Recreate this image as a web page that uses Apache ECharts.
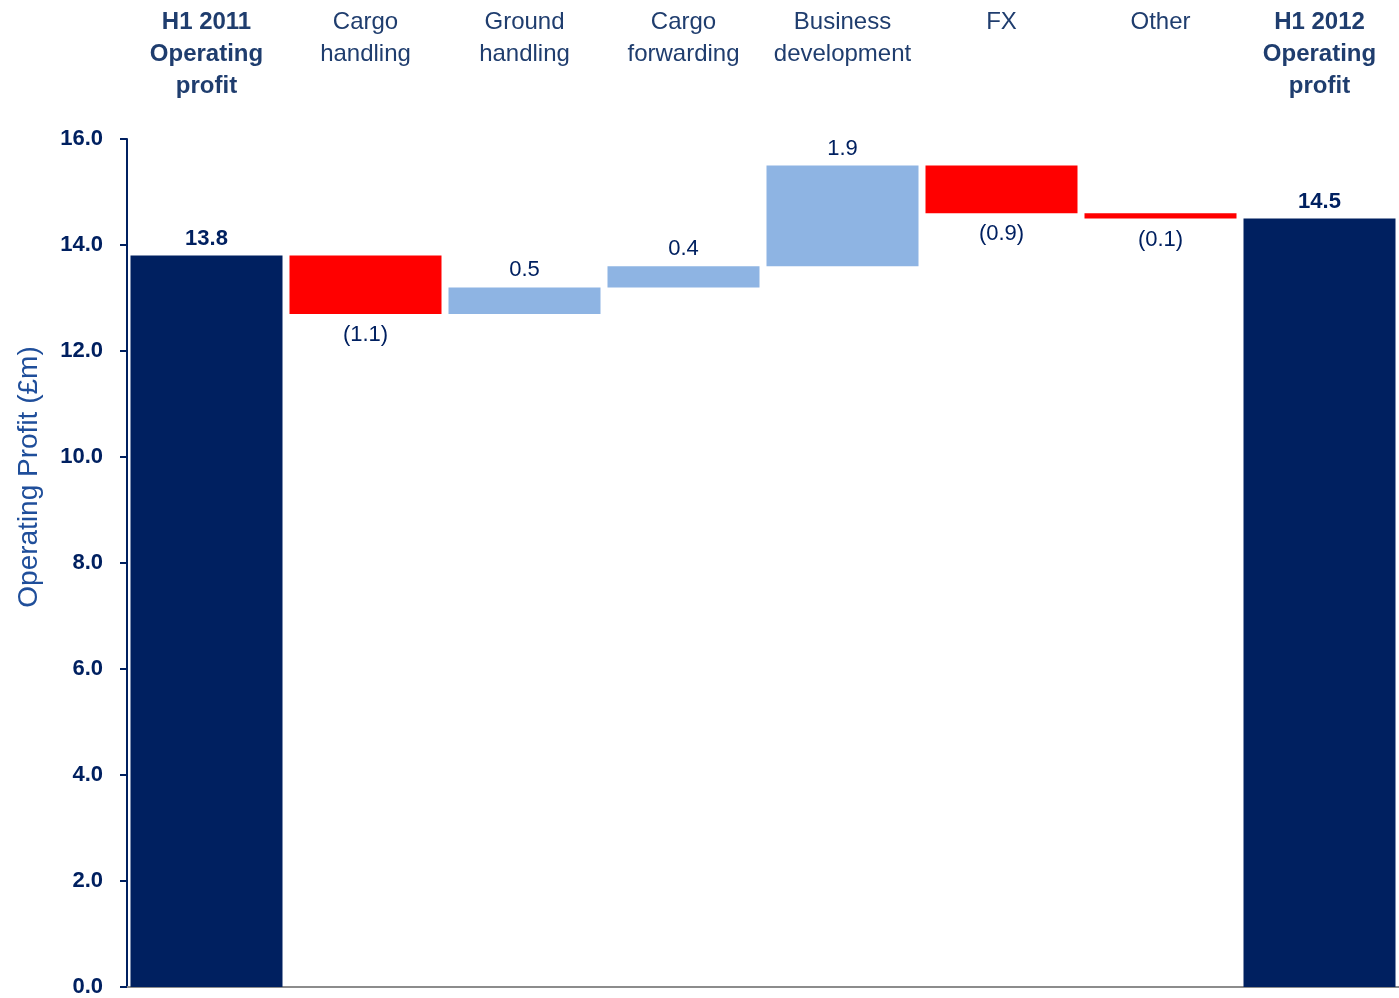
<!DOCTYPE html>
<html>
<head>
<meta charset="utf-8">
<title>Operating profit bridge H1 2011 to H1 2012</title>
<script src="https://cdn.jsdelivr.net/npm/echarts@6/dist/echarts.min.js"></script>
<style>
  html, body { margin: 0; padding: 0; background: #ffffff; }
  #chart { width: 1399px; height: 998px; }
</style>
</head>
<body>
<div id="chart"></div>
<script>
// Bridge steps, in £m
const categories = [
  'H1 2011\nOperating\nprofit',
  'Cargo\nhandling',
  'Ground\nhandling',
  'Cargo\nforwarding',
  'Business\ndevelopment',
  'FX',
  'Other',
  'H1 2012\nOperating\nprofit'
];
// First and last entries are totals; the rest are movements
const movements = [13.8, -1.1, 0.5, 0.4, 1.9, -0.9, -0.1, 14.5];
const yTicks = [0, 2, 4, 6, 8, 10, 12, 14, 16];

const FONT = "'Liberation Sans Narrow', 'Arial Narrow', 'Liberation Sans', Arial, sans-serif";
const NAVY = '#002060';
const TEXT = '#1f3d6e';
const UP = '#8eb4e3';
const DOWN = '#ff0000';

const lastIdx = movements.length - 1;

// Build the floating bases and visible segments of the waterfall
const baseData = [];
const barData = [];
let running = 0;
movements.forEach((v, i) => {
  const isTotal = i === 0 || i === lastIdx;
  if (isTotal) {
    baseData.push(0);
    barData.push({
      value: v,
      itemStyle: { color: NAVY },
      label: { position: 'top', fontWeight: 'bold' }
    });
    running = v;
  } else {
    const start = running;
    const end = +(running + v).toFixed(2);
    baseData.push(Math.min(start, end));
    barData.push({
      value: Math.abs(v),
      signed: v,
      itemStyle: { color: v >= 0 ? UP : DOWN },
      label: v >= 0 ? { position: 'top' } : { position: 'bottom', distance: 10 }
    });
    running = end;
  }
});

function fmt(v) {
  return v < 0 ? '(' + Math.abs(v).toFixed(1) + ')' : v.toFixed(1);
}

const chart = echarts.init(document.getElementById('chart'), null, { renderer: 'canvas' });

chart.setOption({
  backgroundColor: '#ffffff',
  animation: false,
  grid: {
    left: 127, right: 0, top: 139, bottom: 11,
    containLabel: false,
    outerBoundsMode: 'none'
  },
  xAxis: [
    {
      type: 'category',
      data: categories,
      position: 'bottom',
      axisLine: { show: true, lineStyle: { color: '#8c8c8c', width: 2 } },
      axisTick: { show: false },
      axisLabel: { show: false },
      splitLine: { show: false }
    },
    {
      type: 'category',
      data: categories,
      position: 'top',
      axisLine: { show: false },
      axisTick: { show: false },
      splitLine: { show: false },
      axisLabel: {
        interval: 0,
        margin: 133,
        verticalAlign: 'top',
        formatter: (v, i) => (i === 0 || i === lastIdx) ? '{b|' + v + '}' : '{n|' + v + '}',
        rich: {
          b: { fontFamily: FONT, fontSize: 24, fontWeight: 'bold', color: TEXT, lineHeight: 32, align: 'center' },
          n: { fontFamily: FONT, fontSize: 24, color: TEXT, lineHeight: 32, align: 'center' }
        }
      }
    }
  ],
  yAxis: {
    type: 'value',
    min: 0,
    max: 16,
    interval: 2,
    name: 'Operating Profit (£m)',
    nameLocation: 'middle',
    nameRotate: 90,
    nameGap: 84,
    nameMoveOverlap: false,
    // title sits above the vertical centre of the axis
    nameTextStyle: { fontFamily: FONT, fontSize: 28, color: '#1f4e9a', padding: [0, 0, 0, 172] },
    axisLine: { show: true, lineStyle: { color: NAVY, width: 2 } },
    axisTick: { show: true, inside: false, length: 7, lineStyle: { color: NAVY, width: 2 } },
    splitLine: { show: false },
    axisLabel: {
      margin: 24,
      fontFamily: FONT,
      fontSize: 22,
      fontWeight: 'bold',
      color: NAVY,
      formatter: (v) => yTicks.includes(v) ? v.toFixed(1) : ''
    }
  },
  series: [
    {
      name: 'base',
      type: 'bar',
      stack: 'bridge',
      data: baseData,
      itemStyle: { color: 'transparent' },
      emphasis: { disabled: true },
      silent: true,
      barCategoryGap: '4.4%'
    },
    {
      name: 'movement',
      type: 'bar',
      stack: 'bridge',
      data: barData,
      barCategoryGap: '4.4%',
      label: {
        show: true,
        distance: 6,
        fontFamily: FONT,
        fontSize: 22,
        color: NAVY,
        formatter: (p) => fmt(p.data.signed !== undefined ? p.data.signed : p.data.value)
      }
    }
  ]
});
</script>
</body>
</html>
